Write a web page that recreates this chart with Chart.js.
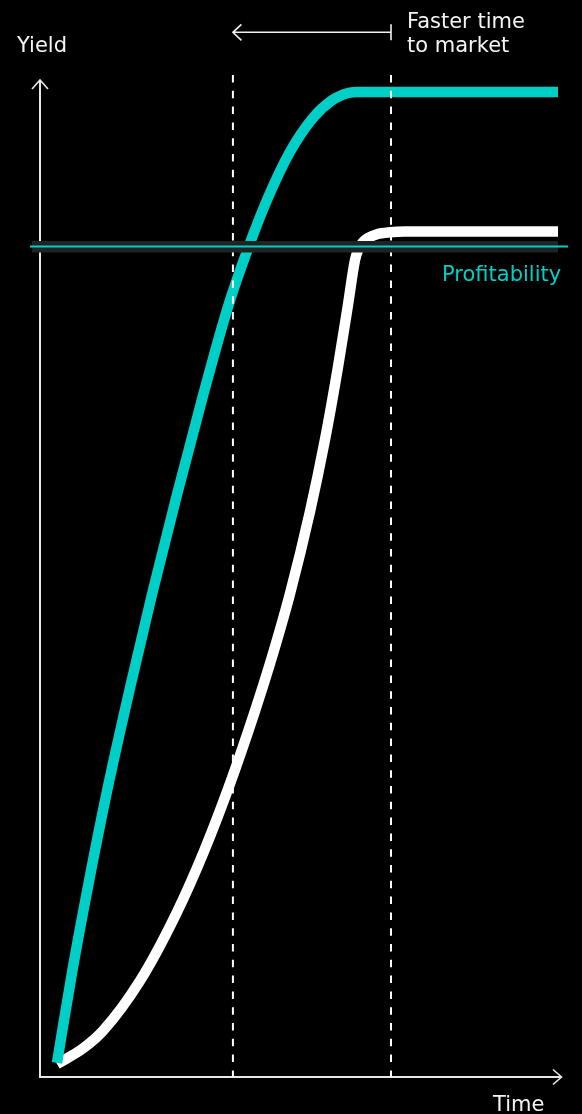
<!DOCTYPE html>
<html><head><meta charset="utf-8">
<script src="https://cdn.jsdelivr.net/npm/chart.js@4"></script>
<style>
html,body{margin:0;padding:0;background:#000;}
#wrap{position:relative;width:582px;height:1114px;overflow:hidden;background:#000;}
canvas{position:absolute;left:0;top:0;}
.lbl{position:absolute;font-family:"DejaVu Sans",sans-serif;font-size:21px;line-height:21px;color:#f4f4f4;white-space:nowrap;}
</style></head>
<body>
<div id="wrap">
<canvas id="c" width="582" height="1114"></canvas>
<div class="lbl" id="lYield" style="left:17px;top:35px;">Yield</div>
<div class="lbl" id="lFaster1" style="left:407px;top:10.5px;">Faster time</div>
<div class="lbl" id="lFaster2" style="left:407px;top:35px;">to market</div>
<div class="lbl" id="lProfit" style="left:442px;top:263.5px;color:#00cfc8;">Profitability</div>
<div class="lbl" id="lTime" style="left:493px;top:1094px;">Time</div>
</div>
<script>
// ---- data (time 0-100, yield 0-100) ----
const tealTime  = [3.27, 6.15, 9.23, 12.88, 17.31, 21.54, 26.35, 31.35, 36.25, 40.0, 43.65, 48.08, 52.5, 56.15, 58.27, 59.62, 60.96, 99.62];
const tealYield = [1.42, 10.42, 19.06, 28.56, 38.91, 48.26, 58.26, 68.14, 77.19, 82.85, 87.7, 92.52, 95.92, 97.67, 98.24, 98.44, 98.5, 98.5];
const whiteTime  = [3.27, 8.27, 12.12, 19.23, 26.15, 31.54, 36.54, 41.15, 44.23, 48.08, 51.92, 54.81, 57.31, 59.23, 60.58, 61.25, 62.02, 63.08, 64.81, 67.31, 70.19, 99.62];
const whiteYield = [1.3, 2.86, 4.62, 9.62, 16.28, 22.58, 29.34, 36.3, 41.34, 48.34, 56.54, 63.74, 71.02, 77.22, 81.7, 82.8, 83.45, 83.9, 84.28, 84.47, 84.54, 84.55];
const profitabilityLevel = 83.05;
const marketMarkers = [37.1, 67.5]; // time positions of the dashed lines

const TEAL = '#00cfc8';
const toPts = (xs, ys) => xs.map((x, i) => ({x: x, y: ys[i]}));

const deco = {
  id: 'deco',
  beforeDatasetsDraw(chart) {
    const {ctx, chartArea: a} = chart;
    ctx.save();
    ctx.strokeStyle = '#e8e8e8';
    ctx.lineWidth = 2;
    ctx.beginPath();
    ctx.moveTo(a.left, a.bottom + 1); ctx.lineTo(a.left, a.top + 3);
    ctx.stroke();
    ctx.lineWidth = 1.6;
    ctx.beginPath();
    ctx.moveTo(a.left - 8, a.top + 12); ctx.lineTo(a.left, a.top + 3); ctx.lineTo(a.left + 8, a.top + 12);
    ctx.stroke();
    ctx.lineWidth = 2;
    ctx.beginPath();
    ctx.moveTo(a.left - 1, a.bottom); ctx.lineTo(a.right + 1, a.bottom);
    ctx.stroke();
    ctx.lineWidth = 1.6;
    ctx.beginPath();
    ctx.moveTo(a.right - 7, a.bottom - 7.5); ctx.lineTo(a.right + 1.5, a.bottom); ctx.lineTo(a.right - 7, a.bottom + 7.5);
    ctx.stroke();
    ctx.restore();
  },
  afterDatasetsDraw(chart) {
    const {ctx, chartArea: a, scales} = chart;
    const xs = scales.x, ys = scales.y;
    ctx.save();
    ctx.strokeStyle = '#ffffff';
    ctx.lineWidth = 2;
    ctx.setLineDash([7.5, 8.3]);
    marketMarkers.forEach(m => {
      const px = xs.getPixelForValue(m);
      ctx.beginPath();
      ctx.moveTo(px, a.top - 2); ctx.lineTo(px, a.bottom);
      ctx.stroke();
    });
    ctx.setLineDash([]);
    const py = ys.getPixelForValue(profitabilityLevel);
    ctx.fillStyle = '#222222';
    ctx.fillRect(a.left - 8, py - 5.5, (a.right - 2) - (a.left - 8), 11.5);
    ctx.strokeStyle = TEAL;
    ctx.lineWidth = 2;
    ctx.beginPath();
    ctx.moveTo(a.left - 10, py); ctx.lineTo(a.right + 8, py);
    ctx.stroke();
    const x1 = xs.getPixelForValue(marketMarkers[0]);
    const x2 = xs.getPixelForValue(marketMarkers[1]);
    const ay = 32.3;
    ctx.strokeStyle = '#f0f0f0';
    ctx.lineWidth = 1.6;
    ctx.beginPath();
    ctx.moveTo(x2, ay); ctx.lineTo(x1, ay);
    ctx.moveTo(x2, ay - 8); ctx.lineTo(x2, ay + 8);
    ctx.moveTo(x1 + 8.5, ay - 8); ctx.lineTo(x1, ay); ctx.lineTo(x1 + 8.5, ay + 8);
    ctx.stroke();
    ctx.restore();
  }
};

new Chart(document.getElementById('c'), {
  type: 'line',
  data: {
    datasets: [
      {label: 'Faster', data: toPts(tealTime, tealYield), borderColor: TEAL, borderWidth: 10.5,
       cubicInterpolationMode: 'monotone', pointRadius: 0, fill: false, clip: false},
      {label: 'Standard', data: toPts(whiteTime, whiteYield), borderColor: '#ffffff', borderWidth: 10.5,
       cubicInterpolationMode: 'monotone', pointRadius: 0, fill: false, clip: false}
    ]
  },
  options: {
    responsive: false,
    devicePixelRatio: 1,
    animation: false,
    layout: {padding: {left: 40, right: 22, top: 77, bottom: 37}},
    plugins: {legend: {display: false}, tooltip: {enabled: false}},
    scales: {
      x: {type: 'linear', min: 0, max: 100, display: false},
      y: {type: 'linear', min: 0, max: 100, display: false}
    }
  },
  plugins: [deco]
});
</script>
</body></html>
